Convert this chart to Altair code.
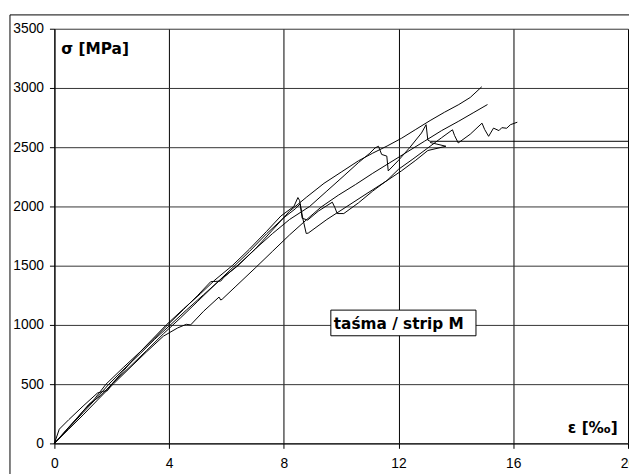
import altair as alt
import pandas as pd

# strain [per mille] and stress [MPa] for each specimen curve
ax = [0, 0.4, 0.9, 1.4, 1.8, 2.4, 3.0, 3.5, 3.95, 4.5, 5.0, 5.45, 5.8, 5.9, 6.4, 7.0, 7.6, 8.2, 8.8, 9.4, 10.0, 10.6, 11.1, 11.6, 12.1, 12.6, 13.1, 13.6, 14.1, 14.5, 14.9]
ay = [0, 110, 245, 375, 500, 640, 775, 890, 1000, 1130, 1250, 1365, 1370, 1400, 1505, 1640, 1800, 1960, 2080, 2195, 2290, 2385, 2450, 2510, 2575, 2650, 2725, 2795, 2860, 2920, 3010]

bx = [0, 0.5, 1.0, 1.5, 2.05, 2.6, 3.2, 3.8, 4.3, 4.6, 4.75, 5.2, 5.74, 5.8, 5.85, 6.3, 7.0, 7.6, 8.2, 8.8, 9.3, 9.9, 10.5, 11.1, 11.7, 12.3, 12.9, 13.5, 14.1, 14.6, 15.1]
by = [0, 120, 240, 365, 500, 630, 770, 905, 975, 1005, 1000, 1115, 1235, 1210, 1217, 1320, 1480, 1620, 1760, 1890, 1995, 2095, 2185, 2280, 2370, 2460, 2550, 2640, 2720, 2790, 2860]

cx = [0, 0.17, 0.5, 1.0, 1.5, 1.72, 1.85, 2.0, 2.4, 2.9, 3.4, 3.9, 4.5, 5.1, 5.6, 6.2, 6.8, 7.4, 7.9, 8.35, 8.49, 8.55, 8.64, 8.83, 9.2, 9.69, 9.78, 9.86, 10.09, 10.6, 11.1, 11.6, 12.0, 12.5, 13.0, 13.5, 13.88, 13.95, 14.08, 14.5, 14.91, 15.0, 15.14, 15.31, 15.5, 15.6, 15.77, 15.9, 16.14]
cy = [0, 120, 200, 315, 425, 440, 445, 500, 610, 750, 875, 1000, 1135, 1265, 1380, 1500, 1640, 1790, 1920, 2000, 2075, 2050, 1900, 1885, 1960, 2036, 1990, 1940, 1940, 2030, 2130, 2220, 2314, 2400, 2490, 2580, 2647, 2600, 2536, 2610, 2703, 2650, 2592, 2661, 2640, 2665, 2660, 2690, 2711]

dx = [0, 0.5, 1.0, 1.5, 1.9, 2.5, 3.0, 3.5, 4.0, 4.6, 5.2, 5.8, 6.4, 7.0, 7.6, 8.2, 8.9, 9.5, 10.1, 10.6, 11.0, 11.18, 11.3, 11.41, 11.59, 11.64, 12.0, 12.4, 12.8, 12.96, 13.02, 13.1, 20.0]
dy = [0, 130, 260, 390, 500, 645, 760, 880, 990, 1125, 1255, 1385, 1500, 1640, 1770, 1890, 2000, 2130, 2260, 2370, 2450, 2494, 2508, 2439, 2425, 2300, 2390, 2500, 2620, 2690, 2560, 2550, 2550]

ex = [0, 0.3, 0.8, 1.2, 1.6, 2.0, 2.6, 3.2, 3.8, 4.4, 5.0, 5.6, 6.2, 6.8, 7.4, 8.0, 8.4, 8.57, 8.66, 8.78, 8.85, 9.5, 10.2, 10.9, 11.59, 12.1, 12.6, 13.02, 13.65, 13.1]
ey = [0, 80, 215, 330, 400, 500, 640, 780, 925, 1060, 1200, 1340, 1480, 1620, 1770, 1905, 1980, 2022, 1900, 1772, 1775, 1890, 2000, 2110, 2217, 2300, 2390, 2472, 2508, 2540]

x_ticks = [0, 4, 8, 12, 16, 20]
y_ticks = [0, 500, 1000, 1500, 2000, 2500, 3000, 3500]

y_title = "σ [MPa]"
x_title = "ε [‰]"
box_label = "taśma / strip M"

rows = []
for name, xs, ys in [("A", ax, ay), ("B", bx, by), ("C", cx, cy), ("D", dx, dy), ("E", ex, ey)]:
    for i, (xv, yv) in enumerate(zip(xs, ys)):
        rows.append({"curve": name, "i": i, "eps": xv, "sigma": yv})
df = pd.DataFrame(rows)

FONT = "Liberation Sans"
ANN_FONT = "DejaVu Sans"

xenc = alt.X("eps:Q", scale=alt.Scale(domain=[0, 20], nice=False), title=None,
             axis=alt.Axis(values=x_ticks, format="d", labelFontSize=14, labelFont=FONT, labelColor="black",
                           tickColor="black", tickSize=5, labelPadding=8, domainColor="black",
                           gridColor="black", gridWidth=1, labelFlush=False))
yenc = alt.Y("sigma:Q", scale=alt.Scale(domain=[0, 3500], nice=False), title=None,
             axis=alt.Axis(values=y_ticks, format="d", labelFontSize=14, labelFont=FONT, labelColor="black",
                           tickColor="black", tickSize=5, labelPadding=6, domainColor="black",
                           gridColor="#333333", gridWidth=1))

lines = alt.Chart(df).mark_line(color="black", strokeWidth=1).encode(
    x=xenc, y=yenc, detail="curve:N", order="i:Q"
)

one = pd.DataFrame({"k": [0]})

frame = alt.Chart(one).mark_rect(fill="white", fillOpacity=0, stroke="black", strokeWidth=1).encode(
    x=alt.value(-45), x2=alt.value(700), y=alt.value(-14), y2=alt.value(520)
)

box = alt.Chart(one).mark_rect(fill="white", stroke="black", strokeWidth=1).encode(
    x=alt.value(280), x2=alt.value(427), y=alt.value(285), y2=alt.value(311)
)

box_text = alt.Chart(one).mark_text(text=box_label, font=ANN_FONT, fontWeight="bold", fontSize=15.5,
                                   align="left", baseline="alphabetic", color="black").encode(
    x=alt.value(283), y=alt.value(304)
)

ytitle = alt.Chart(one).mark_text(text=y_title, font=ANN_FONT, fontWeight="bold", fontSize=15.5,
                                  align="left", baseline="alphabetic", color="black").encode(
    x=alt.value(7), y=alt.value(26)
)

xtitle = alt.Chart(one).mark_text(text=x_title, font=ANN_FONT, fontWeight="bold", fontSize=15.5,
                                  align="left", baseline="alphabetic", color="black").encode(
    x=alt.value(520), y=alt.value(409)
)

chart = alt.layer(frame, lines, box, box_text, ytitle, xtitle).properties(
    width=581, height=420,
    autosize=alt.AutoSizeParams(type="none"),
    padding={"left": 47, "top": 18, "right": 1, "bottom": 28},
    background="white",
).configure_view(strokeWidth=0)

chart.save("out.html", embed_options={"renderer": "svg", "actions": False})
